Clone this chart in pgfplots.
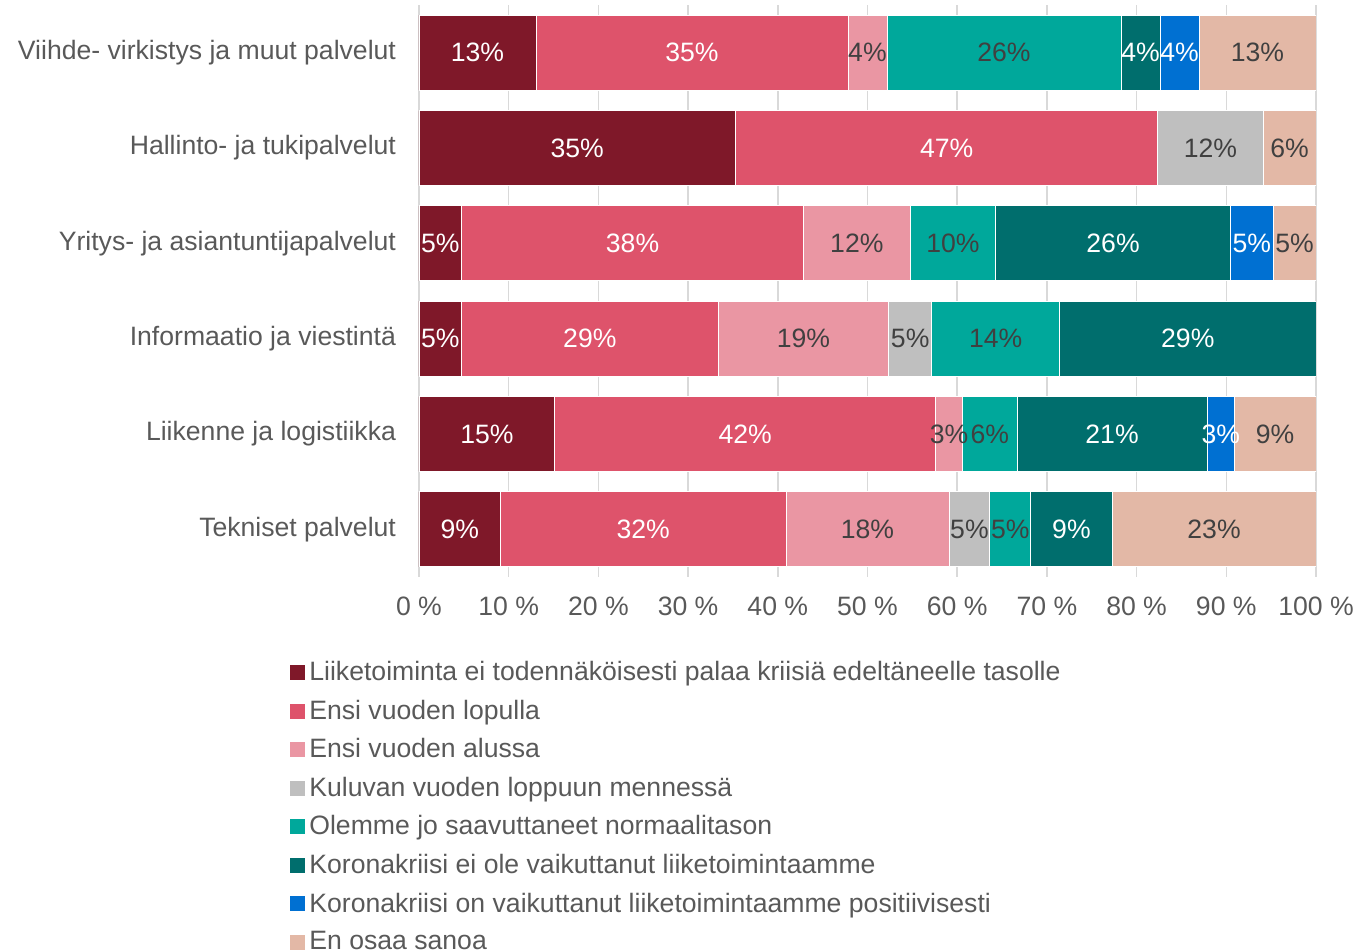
\documentclass[border=0pt]{standalone}
\usepackage{pgfplots}
\usepackage{pgfplotstable}
\pgfplotsset{compat=1.18}
\usepackage{fontspec}
\setmainfont{Liberation Sans}
\definecolor{c1}{HTML}{7F1829}
\definecolor{c2}{HTML}{DE536B}
\definecolor{c3}{HTML}{EA96A3}
\definecolor{c4}{HTML}{BFBFBF}
\definecolor{c5}{HTML}{00A89B}
\definecolor{c6}{HTML}{006E6D}
\definecolor{c7}{HTML}{0070D2}
\definecolor{c8}{HTML}{E3B8A6}
\definecolor{txtdark}{HTML}{404040}
\definecolor{tickgray}{HTML}{595959}
\definecolor{gridgray}{HTML}{D9D9D9}

\pgfplotstableread{
y s1 s2 s3 s4 s5 s6 s7 s8
5 13.04 34.78 4.35 0 26.09 4.35 4.35 13.03
4 35.29 47.06 0 11.76 0 0 0 5.88
3 4.76 38.10 11.90 0 9.52 26.19 4.76 4.76
2 4.76 28.57 19.05 4.76 14.29 28.56 0 0
1 15.15 42.42 3.03 0 6.06 21.21 3.03 9.09
0 9.09 31.82 18.18 4.55 4.55 9.09 0 22.71
}\datatable

\pgfplotsset{
  seg/.style n args={2}{
    fill=#1, draw=white, line width=0.4pt,
    every node near coord/.append style={text=#2},
  },
}

\begin{document}
\begin{tikzpicture}
\begin{axis}[
  name=ax,
  scale only axis,
  width=448.5pt, height=286pt,
  xbar stacked,
  bar width=0.786,
  xmin=0, xmax=100,
  ymin=-0.5, ymax=5.5,
  /pgf/number format/assume math mode=true,
  ytick={0,1,2,3,4,5},
  yticklabels={Tekniset palvelut, Liikenne ja logistiikka, Informaatio ja viestintä, Yritys- ja asiantuntijapalvelut, Hallinto- ja tukipalvelut, Viihde- virkistys ja muut palvelut},
  xtick={0,10,...,100},
  xticklabels={0 \%,10 \%,20 \%,30 \%,40 \%,50 \%,60 \%,70 \%,80 \%,90 \%,100 \%},
  major tick length=0pt,
  axis line style={draw=none},
  xmajorgrids,
  grid style={gridgray, line width=0.75pt},
  tick label style={font=\fontsize{13.3}{15}\selectfont, text=tickgray},
  yticklabel style={xshift=-8pt},
  xticklabel style={yshift=-6.5pt},
  point meta=explicit,
  nodes near coords={\pgfmathfloatifflags{\pgfplotspointmeta}{0}{}{\pgfmathprintnumber[fixed,precision=0,assume math mode=true]{\pgfplotspointmeta}\%}},
  every node near coord/.append style={anchor=center, font=\fontsize{13.3}{15}\selectfont, inner sep=0pt},
  legend style={
    at={(0,0)}, anchor=north west, xshift=-64.5pt, yshift=-40pt,
    draw=none, fill=none, inner sep=0pt,
    font=\fontsize{13.3}{15}\selectfont, text=tickgray,
    row sep=4.15pt,
    legend cell align=left,
    /tikz/every even column/.append style={column sep=3pt},
  },
  legend image code/.code={\fill[#1, draw=none] (0pt,-3.75pt) rectangle (7.5pt,3.75pt);},
]
\addplot[seg={c1}{white}] table[x=s1, y=y, meta=s1] {\datatable};
\addplot[seg={c2}{white}] table[x=s2, y=y, meta=s2] {\datatable};
\addplot[seg={c3}{txtdark}] table[x=s3, y=y, meta=s3] {\datatable};
\addplot[seg={c4}{txtdark}] table[x=s4, y=y, meta=s4] {\datatable};
\addplot[seg={c5}{txtdark}] table[x=s5, y=y, meta=s5] {\datatable};
\addplot[seg={c6}{white}] table[x=s6, y=y, meta=s6] {\datatable};
\addplot[seg={c7}{white}] table[x=s7, y=y, meta=s7] {\datatable};
\addplot[seg={c8}{txtdark}] table[x=s8, y=y, meta=s8] {\datatable};
\legend{Liiketoiminta ei todennäköisesti palaa kriisiä edeltäneelle tasolle, Ensi vuoden lopulla, Ensi vuoden alussa, Kuluvan vuoden loppuun mennessä, Olemme jo saavuttaneet normaalitason, Koronakriisi ei ole vaikuttanut liiketoimintaamme, Koronakriisi on vaikuttanut liiketoimintaamme positiivisesti, En osaa sanoa}
\end{axis}
\pgfresetboundingbox
\path[use as bounding box] ([xshift=-209.5pt,yshift=-187pt]ax.south west) rectangle ([xshift=18.5pt,yshift=2.5pt]ax.north east);
\end{tikzpicture}
\end{document}
